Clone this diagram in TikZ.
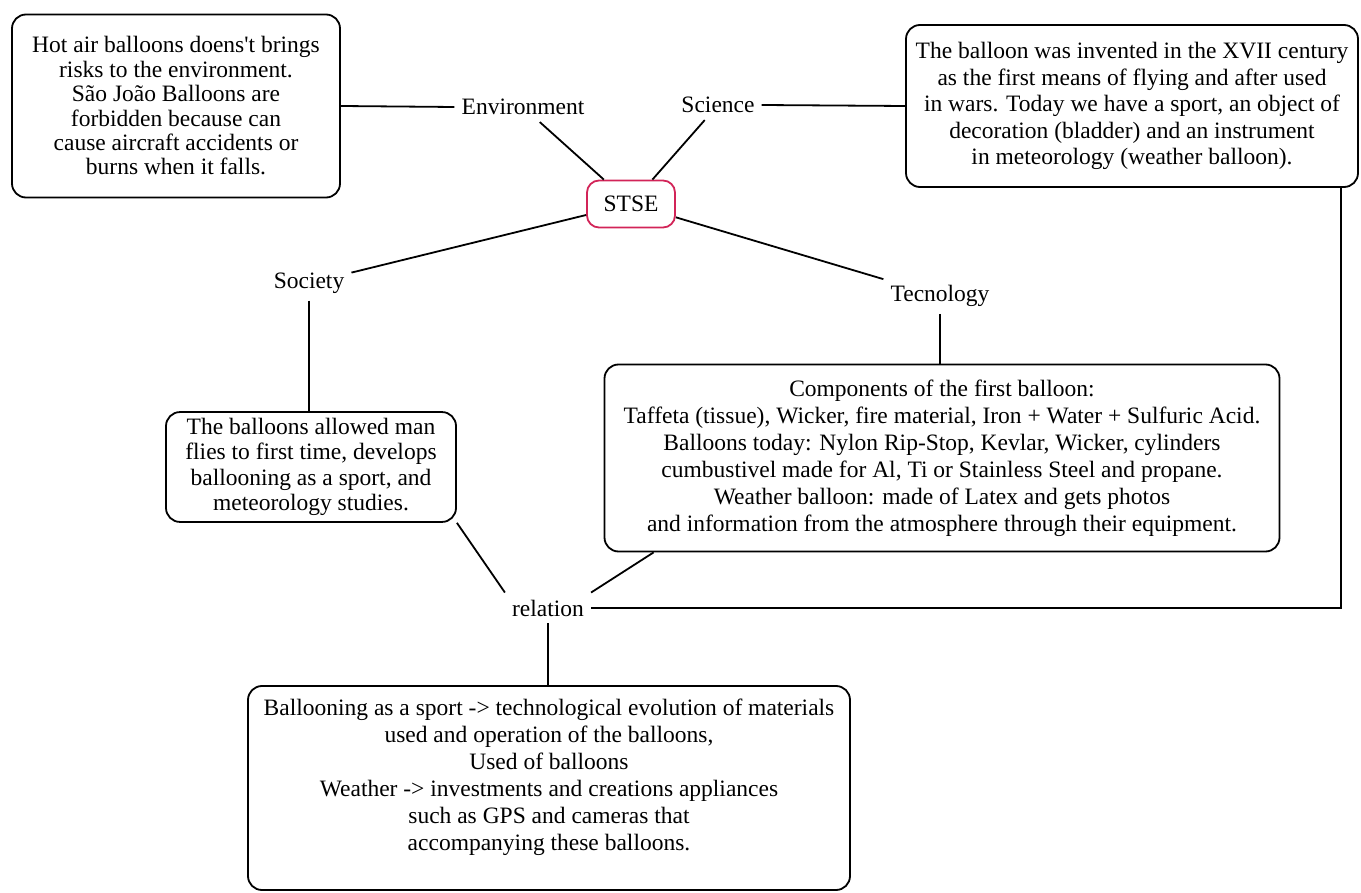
\documentclass[tikz,border=0pt]{standalone}
\usepackage{fontspec}
\setmainfont{Liberation Serif}
\usetikzlibrary{positioning, calc}
\definecolor{stsered}{HTML}{D22458}

\begin{document}
\begin{tikzpicture}[
    x=1pt, y=-1pt,
    font=\fontsize{23.5}{27}\selectfont,
    box/.style={draw, line width=1.8pt, rounded corners=14pt, align=center,
                inner sep=6pt},
    topic/.style={inner sep=7pt},
    core/.style={draw=stsered, line width=1.8pt, rounded corners=12pt,
                 minimum width=88pt, minimum height=47pt},
    link/.style={line width=1.8pt}
]
\useasboundingbox (0,0) rectangle (1361,893);

% --- Centre ---
\node[core] (stse) at (631,204) {STSE};

% --- Topics ---
\node[topic] (envlbl)  at (523,107) {Environment};
\node[topic] (scilbl)  at (718,105) {Science};
\node[topic] (soclbl)  at (309,283) {Society};
\node[topic] (teclbl)  at (940,296) {Tecnology};
\node[topic] (rellbl)  at (548,608) {relation};

% --- Boxes ---
\node[box, minimum width=328pt, minimum height=183pt,
      font=\fontsize{23.5}{24.4}\selectfont] (envbox) at (176,106)
  {Hot air balloons doens\textquotesingle t brings\\ risks to the environment.\\
   São João Balloons are\\ forbidden because can\\
   cause aircraft accidents or\\ burns when it falls.};
\node[box, minimum width=452pt, minimum height=162pt,
      font=\fontsize{23.5}{26.6}\selectfont] (scibox) at (1132,106)
  {The balloon was invented in the XVII century\\
   as the first means of flying and after used\\
   in wars. Today we have a sport, an object of\\
   decoration (bladder) and an instrument\\
   in meteorology (weather balloon).};
\node[box, minimum width=290pt, minimum height=109pt,
      font=\fontsize{23.5}{25.5}\selectfont] (socbox) at (311,467)
  {The balloons allowed man\\ flies to first time, develops\\
   ballooning as a sport, and\\ meteorology studies.};
\node[box, minimum width=675pt, minimum height=187pt] (tecbox) at (942,458)
  {Components of the first balloon:\\
   Taffeta (tissue), Wicker, fire material, Iron + Water + Sulfuric Acid.\\
   Balloons today: Nylon Rip-Stop, Kevlar, Wicker, cylinders\\
   cumbustivel made for Al, Ti or Stainless Steel and propane.\\
   Weather balloon: made of Latex and gets photos\\
   and information from the atmosphere through their equipment.};
\node[box, minimum width=602pt, minimum height=204pt] (relbox) at (549,788)
  {Ballooning as a sport -> technological evolution of materials\\
   used and operation of the balloons,\\
   Used of balloons\\
   Weather -> investments and creations appliances\\
   such as GPS and cameras that\\
   accompanying these balloons.\\ ~};

% --- Links ---
\draw[link] (envbox.east) -- (envlbl.west);
\draw[link] (scilbl.east) -- (scibox.west);
\draw[link] (envlbl) -- (stse);
\draw[link] (scilbl) -- (stse);
\draw[link] (stse) -- (soclbl);
\draw[link] (stse) -- (teclbl);
\draw[link] (soclbl.south) -- (socbox.north -| soclbl.south);
\draw[link] (teclbl.south) -- (tecbox.north -| teclbl.south);
\draw[link] (socbox.south east) -- (rellbl.north west);
\draw[link] ([xshift=50pt]tecbox.south west) -- (rellbl.north east);
\draw[link] (rellbl.east) -| ([xshift=-18pt]scibox.south east);
\draw[link] (rellbl.south) -- (relbox.north -| rellbl.south);

\end{tikzpicture}
\end{document}
